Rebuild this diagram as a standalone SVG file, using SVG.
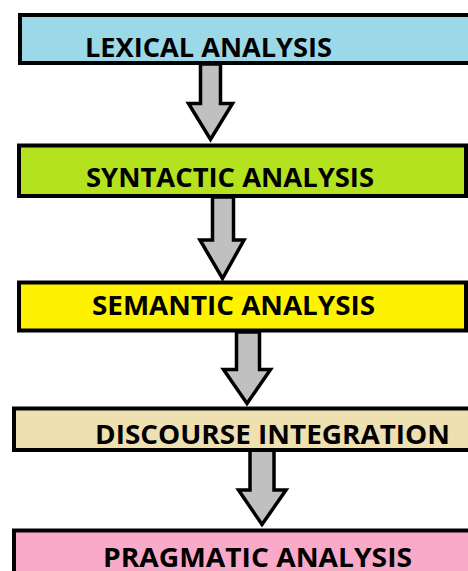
<svg xmlns="http://www.w3.org/2000/svg" width="468" height="571" viewBox="0 0 468 571">
<style>
.box{stroke:#000;stroke-width:4}
.lbl{font-family:"Open Sans","Liberation Sans",sans-serif;font-weight:bold;font-size:26px;fill:#000}
.arr{fill:#C0C0C0;stroke:#000;stroke-width:3.5;stroke-linejoin:miter;stroke-miterlimit:10}
</style>
<rect width="468" height="571" fill="#fff"/>
<g id="connectors">
<polygon class="arr" points="200.5,64 220.5,64 220.5,103.5 232.5,103.5 210.5,139.5 188.5,103.5 200.5,103.5"/>
<polygon class="arr" points="212.5,197 233.5,197 233.5,240 244,240 222.5,278.5 200,240 212.5,240"/>
<polygon class="arr" points="236.5,332 259.5,332 259.5,369.5 270.5,369.5 247,403.5 223.5,369.5 236.5,369.5"/>
<polygon class="arr" points="250,450 274,450 274,490 286,490 262,524.5 238.5,490 250,490"/>
</g>
<g id="lexical">
<rect class="box" x="20" y="15" width="470" height="48" fill="#9BD9E9"/>
<text class="lbl" x="85" y="57" textLength="247" lengthAdjust="spacingAndGlyphs">LEXICAL ANALYSIS</text>
</g>
<g id="syntactic">
<rect class="box" x="19" y="145.5" width="447" height="50.5" fill="#B5E21E"/>
<text class="lbl" x="86" y="187" textLength="288" lengthAdjust="spacingAndGlyphs">SYNTACTIC ANALYSIS</text>
</g>
<g id="semantic">
<rect class="box" x="19" y="282.5" width="447" height="48" fill="#FFF200"/>
<text class="lbl" x="92" y="315" textLength="283" lengthAdjust="spacingAndGlyphs">SEMANTIC ANALYSIS</text>
</g>
<g id="discourse">
<rect class="box" x="14" y="408.5" width="470" height="41.5" fill="#EEE0B0"/>
<text class="lbl" x="95" y="444" textLength="355" lengthAdjust="spacingAndGlyphs">DISCOURSE INTEGRATION</text>
</g>
<g id="pragmatic">
<rect class="box" x="14" y="530.5" width="470" height="60" fill="#F9AAC8"/>
<text class="lbl" x="103" y="567" textLength="309" lengthAdjust="spacingAndGlyphs">PRAGMATIC ANALYSIS</text>
</g>
</svg>
